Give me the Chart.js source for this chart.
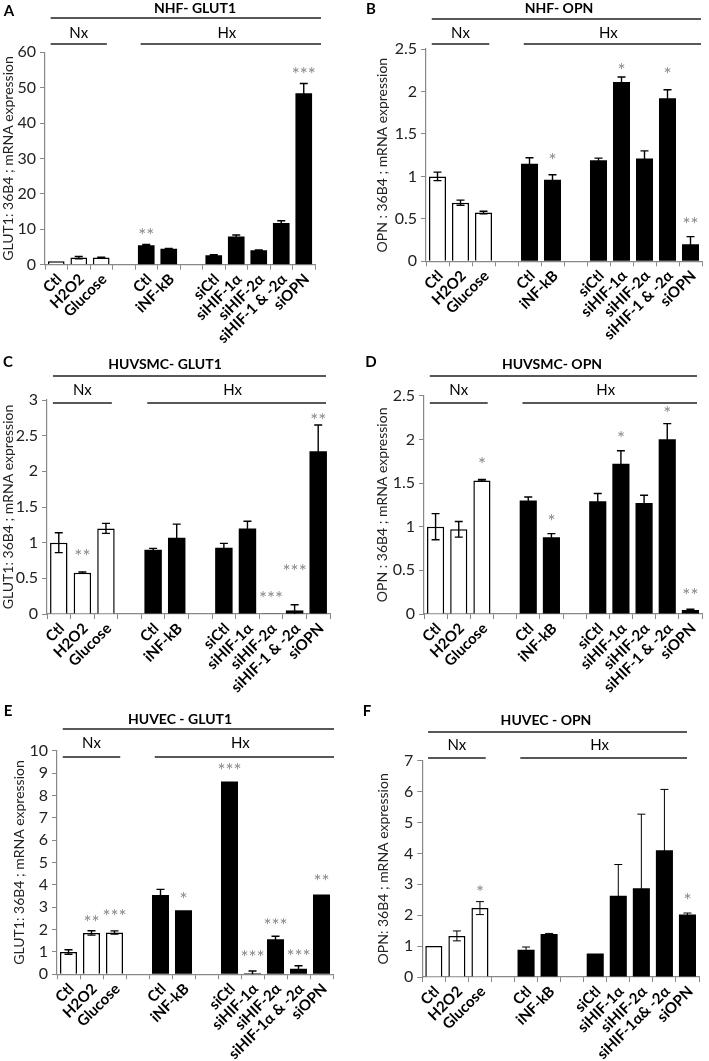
<!DOCTYPE html>
<html>
<head>
<meta charset="utf-8">
<script src="https://cdn.jsdelivr.net/npm/chart.js@4.4.0/dist/chart.umd.min.js"></script>
<style>
body{margin:0;background:#fff;width:709px;height:1061px;position:relative;overflow:hidden;}
canvas{position:absolute;}
</style>
</head>
<body>
<canvas id="cA"></canvas>
<canvas id="cB"></canvas>
<canvas id="cC"></canvas>
<canvas id="cD"></canvas>
<canvas id="cE"></canvas>
<canvas id="cF"></canvas>
<script>
// categories (empty strings are the gaps between the groups)
const labels = ['Ctl','H2O2','Glucose','','Ctl','iNF-kB','','siCtl','siHIF-1α','siHIF-2α','siHIF-1 & -2α','siOPN'];
const labelsE = ['Ctl','H2O2','Glucose','','Ctl','iNF-kB','','siCtl','siHIF-1α','siHIF-2α','siHIF-1α & -2α','siOPN'];
const labelsF = ['Ctl','H2O2','Glucose','','Ctl','iNF-kB','','siCtl','siHIF-1α','siHIF-2α','siHIF-1α& -2α','siOPN'];
const oxygen = ['Nx','Nx','Nx','','Hx','Hx','','Hx','Hx','Hx','Hx','Hx'];

// A  NHF- GLUT1
const nhfGlut1     = [1.0, 2.0, 2.0, null, 5.5, 4.5, null, 2.7, 8.0, 4.1, 11.8, 48.4];
const nhfGlut1Err  = [0, 0.3, 0.15, 0, 0.2, 0.1, 0, 0.1, 0.4, 0.1, 0.6, 2.8];
const nhfGlut1Sig  = ['', '', '', '', '**', '', '', '', '', '', '', '***'];
const nhfGlut1SigAt= [0, 0, 0, 0, 9.5, 0, 0, 0, 0, 0, 0, 55];

// B  NHF- OPN
const nhfOpn     = [1.0, 0.69, 0.575, null, 1.15, 0.96, null, 1.19, 2.11, 1.21, 1.92, 0.2];
const nhfOpnErr  = [0.05, 0.03, 0.015, 0, 0.07, 0.06, 0, 0.025, 0.06, 0.09, 0.1, 0.09];
const nhfOpnSig  = ['', '', '', '', '', '*', '', '', '*', '', '*', '**'];
const nhfOpnSigAt= [0, 0, 0, 0, 0, 1.24, 0, 0, 2.30, 0, 2.25, 0.48];

// C  HUVSMC- GLUT1
const smcGlut1     = [1.0, 0.58, 1.2, null, 0.9, 1.07, null, 0.93, 1.2, 0.005, 0.05, 2.28];
const smcGlut1Err  = [0.14, 0.01, 0.07, 0, 0.02, 0.19, 0, 0.06, 0.1, 0, 0.08, 0.37];
const smcGlut1Sig  = ['', '**', '', '', '', '', '', '', '', '***', '***', '**'];
const smcGlut1SigAt= [0, 0.87, 0, 0, 0, 0, 0, 0, 0, 0.28, 0.65, 2.78];

// D  HUVSMC- OPN
const smcOpn     = [1.0, 0.97, 1.53, null, 1.3, 0.88, null, 1.29, 1.72, 1.27, 2.0, 0.045];
const smcOpnErr  = [0.15, 0.09, 0.01, 0, 0.04, 0.04, 0, 0.09, 0.15, 0.09, 0.18, 0.01];
const smcOpnSig  = ['', '', '*', '', '', '*', '', '', '*', '', '*', '**'];
const smcOpnSigAt= [0, 0, 1.76, 0, 0, 1.11, 0, 0, 2.06, 0, 2.35, 0.26];

// E  HUVEC - GLUT1
const ecGlut1     = [1.0, 1.85, 1.87, null, 3.55, 2.87, null, 8.62, 0.05, 1.57, 0.25, 3.57];
const ecGlut1Err  = [0.1, 0.1, 0.07, 0, 0.25, 0, 0, 0, 0.1, 0.13, 0.13, 0];
const ecGlut1Sig  = ['', '**', '***', '', '', '*', '', '***', '***', '***', '***', '**'];
const ecGlut1SigAt= [0, 2.53, 2.80, 0, 0, 3.55, 0, 9.32, 0.94, 2.38, 1.0, 4.36];

// F  HUVEC - OPN
const ecOpn     = [1.0, 1.33, 2.23, null, 0.88, 1.39, null, 0.76, 2.63, 2.87, 4.1, 2.02];
const ecOpnErr  = [0, 0.16, 0.21, 0, 0.09, 0.02, 0, 0, 1.01, 2.4, 1.97, 0.05];
const ecOpnSig  = ['', '', '*', '', '', '', '', '', '', '', '', '*'];
const ecOpnSigAt= [0, 0, 2.88, 0, 0, 0, 0, 0, 0, 0, 0, 2.62];

// page layout (absolute page pixels): canvas box, plot area, header positions
const panels = [
  {id:'cA', letter:'A', title:'NHF- GLUT1', yTitle:'GLUT1: 36B4 ; mRNA expression', labels:labels,
   values:nhfGlut1, err:nhfGlut1Err, sig:nhfGlut1Sig, sigAt:nhfGlut1SigAt, max:60, step:10,
   box:[0,0,354,347], area:[45,52.3,315,264.7], yTitleX:8,
   head:{letter:[9,11], title:[195,8], titleLine:18, groupText:33, groupLine:44, lineEnd:321}, errWidth:1.4},
  {id:'cB', letter:'B', title:'NHF- OPN', yTitle:'OPN : 36B4 ; mRNA expression', labels:labels,
   values:nhfOpn, err:nhfOpnErr, sig:nhfOpnSig, sigAt:nhfOpnSigAt, max:2.5, step:0.5,
   box:[354,0,355,347], area:[426,49,702,261.3], yTitleX:28,
   head:{letter:[371,9], title:[559,8], titleLine:19, groupText:33, groupLine:44, lineEnd:701}, errWidth:1.4},
  {id:'cC', letter:'C', title:'HUVSMC- GLUT1', yTitle:'GLUT1: 36B4 ; mRNA expression', labels:labels,
   values:smcGlut1, err:smcGlut1Err, sig:smcGlut1Sig, sigAt:smcGlut1SigAt, max:3, step:0.5,
   box:[0,347,354,353], area:[47,400,330,614], yTitleX:8,
   head:{letter:[8,362], title:[165,364], titleLine:376, groupText:390, groupLine:403, lineEnd:326}, errWidth:1.4},
  {id:'cD', letter:'D', title:'HUVSMC- OPN', yTitle:'OPN : 36B4 ; mRNA expression', labels:labels,
   values:smcOpn, err:smcOpnErr, sig:smcOpnSig, sigAt:smcOpnSigAt, max:2.5, step:0.5,
   box:[354,347,355,353], area:[424,395.7,702,614], yTitleX:28,
   head:{letter:[371,362], title:[552,364], titleLine:376, groupText:390, groupLine:403, lineEnd:697}, errWidth:1.4},
  {id:'cE', letter:'E', title:'HUVEC - GLUT1', yTitle:'GLUT1: 36B4 ; mRNA expression', labels:labelsE,
   values:ecGlut1, err:ecGlut1Err, sig:ecGlut1Sig, sigAt:ecGlut1SigAt, max:10, step:1,
   box:[0,700,354,361], area:[57,750.7,333,974.3], yTitleX:19,
   head:{letter:[8,711], title:[180,719], titleLine:729, groupText:743, groupLine:757, lineEnd:334}, errWidth:1.4},
  {id:'cF', letter:'F', title:'HUVEC - OPN', yTitle:'OPN: 36B4 ; mRNA expression', labels:labelsF,
   values:ecOpn, err:ecOpnErr, sig:ecOpnSig, sigAt:ecOpnSigAt, max:7, step:1,
   box:[354,700,355,361], area:[422.3,760.7,699,977], yTitleX:29,
   head:{letter:[367,711], title:[546,720], titleLine:732, groupText:745, groupLine:758, lineEnd:687}, errWidth:1}
];

Chart.defaults.font.family = 'Lato';
Chart.defaults.color = '#111';

// error bars, significance stars, slanted category labels and the Nx / Hx header
const decor = {
  id: 'decor',
  afterDatasetsDraw(chart, args, opts) {
    const p = opts.panel;
    const {ctx, chartArea, scales: {x, y}} = chart;
    const ox = p.box[0], oy = p.box[1];
    ctx.save();

    // error bars
    ctx.strokeStyle = '#000';
    ctx.lineWidth = p.errWidth;
    p.values.forEach((v, i) => {
      const e = p.err[i];
      if (v == null || !e) return;
      const cx = x.getPixelForValue(i);
      const top = y.getPixelForValue(v + e);
      const lo = v - e;
      const bot = y.getPixelForValue(Math.max(lo, 0));
      ctx.beginPath();
      ctx.moveTo(cx, bot); ctx.lineTo(cx, top);
      ctx.moveTo(cx - 4, top); ctx.lineTo(cx + 4, top);
      if (lo > 0) { ctx.moveTo(cx - 4, bot); ctx.lineTo(cx + 4, bot); }
      ctx.stroke();
    });

    // stars
    ctx.fillStyle = '#8a8a8a';
    ctx.font = '19px Lato';
    ctx.textAlign = 'center';
    ctx.textBaseline = 'alphabetic';
    p.sig.forEach((s, i) => {
      if (!s) return;
      ctx.fillText(s, x.getPixelForValue(i), y.getPixelForValue(p.sigAt[i]) + 0.57 * 19);
    });

    // category labels at 45 degrees, ending under each bar
    ctx.fillStyle = '#000';
    ctx.font = 'bold 15px Lato';
    ctx.textAlign = 'right';
    ctx.textBaseline = 'middle';
    p.labels.forEach((l, i) => {
      if (!l) return;
      ctx.save();
      ctx.translate(x.getPixelForValue(i) + 3, chartArea.bottom + 12);
      ctx.rotate(-Math.PI / 4);
      ctx.fillText(l, 0, 0);
      ctx.restore();
    });

    // header: panel letter, title, Nx / Hx brackets
    const h = p.head;
    const slot = x.getPixelForValue(1) - x.getPixelForValue(0);
    const nx0 = x.getPixelForValue(0) - slot / 4;
    const nx1 = x.getPixelForValue(2) + slot / 4;
    const hx0 = x.getPixelForValue(4) - slot / 4;
    const hx1 = h.lineEnd - ox;

    ctx.textAlign = 'center';
    ctx.font = 'bold 15px Lato';
    ctx.fillText(p.letter, h.letter[0] - ox, h.letter[1] - oy);
    ctx.font = 'bold 14px Lato';
    ctx.fillText(p.title, h.title[0] - ox, h.title[1] - oy);
    ctx.font = '15px Lato';
    ctx.fillText('Nx', (nx0 + nx1) / 2, h.groupText - oy);
    ctx.fillText('Hx', (hx0 + hx1) / 2 - 4, h.groupText - oy);

    ctx.strokeStyle = '#222';
    ctx.lineWidth = 1.3;
    ctx.beginPath();
    ctx.moveTo(nx0, h.titleLine - oy); ctx.lineTo(hx1, h.titleLine - oy);
    ctx.moveTo(nx0, h.groupLine - oy); ctx.lineTo(nx1, h.groupLine - oy);
    ctx.moveTo(hx0, h.groupLine - oy); ctx.lineTo(hx1, h.groupLine - oy);
    ctx.stroke();
    ctx.restore();
  }
};

panels.forEach(p => {
  const cv = document.getElementById(p.id);
  const [bx, by, bw, bh] = p.box;
  cv.width = bw; cv.height = bh;
  cv.style.left = bx + 'px'; cv.style.top = by + 'px';
  cv.style.width = bw + 'px'; cv.style.height = bh + 'px';

  const left = p.area[0] - bx, top = p.area[1] - by;
  const right = p.area[2] - bx, bottom = p.area[3] - by;

  new Chart(cv.getContext('2d'), {
    type: 'bar',
    data: {
      labels: p.labels,
      datasets: [{
        data: p.values,
        backgroundColor: oxygen.map(o => o === 'Nx' ? '#fff' : '#000'),
        borderColor: '#000',
        borderWidth: oxygen.map(o => o === 'Nx' ? 1.5 : 0),
        barPercentage: 0.74,
        categoryPercentage: 1
      }]
    },
    options: {
      responsive: false,
      animation: false,
      layout: {padding: {left: 0, top: top, right: bw - right, bottom: 0}},
      plugins: {legend: {display: false}, tooltip: {enabled: false}, decor: {panel: p}},
      scales: {
        x: {
          grid: {drawOnChartArea: false, tickLength: 5, color: '#888', offset: true},
          border: {color: '#888', width: 1.2},
          ticks: {display: false, autoSkip: false},
          afterFit(s) { s.height = bh - bottom; s.paddingLeft = 0; s.paddingRight = 0; }
        },
        y: {
          min: 0, max: p.max,
          grid: {drawOnChartArea: false, tickLength: 5, color: '#888'},
          border: {color: '#888', width: 1.2},
          ticks: {stepSize: p.step, padding: 4, font: {size: 16}, color: '#222',
                  callback: v => String(+v.toFixed(2))},
          title: {display: true, text: p.yTitle, font: {size: 14}, color: '#222',
                  padding: {top: p.yTitleX - 8.4, bottom: 0}},
          afterFit(s) { s.width = left; s.paddingTop = 0; s.paddingBottom = 0; }
        }
      }
    },
    plugins: [decor]
  });
});
</script>
</body>
</html>
